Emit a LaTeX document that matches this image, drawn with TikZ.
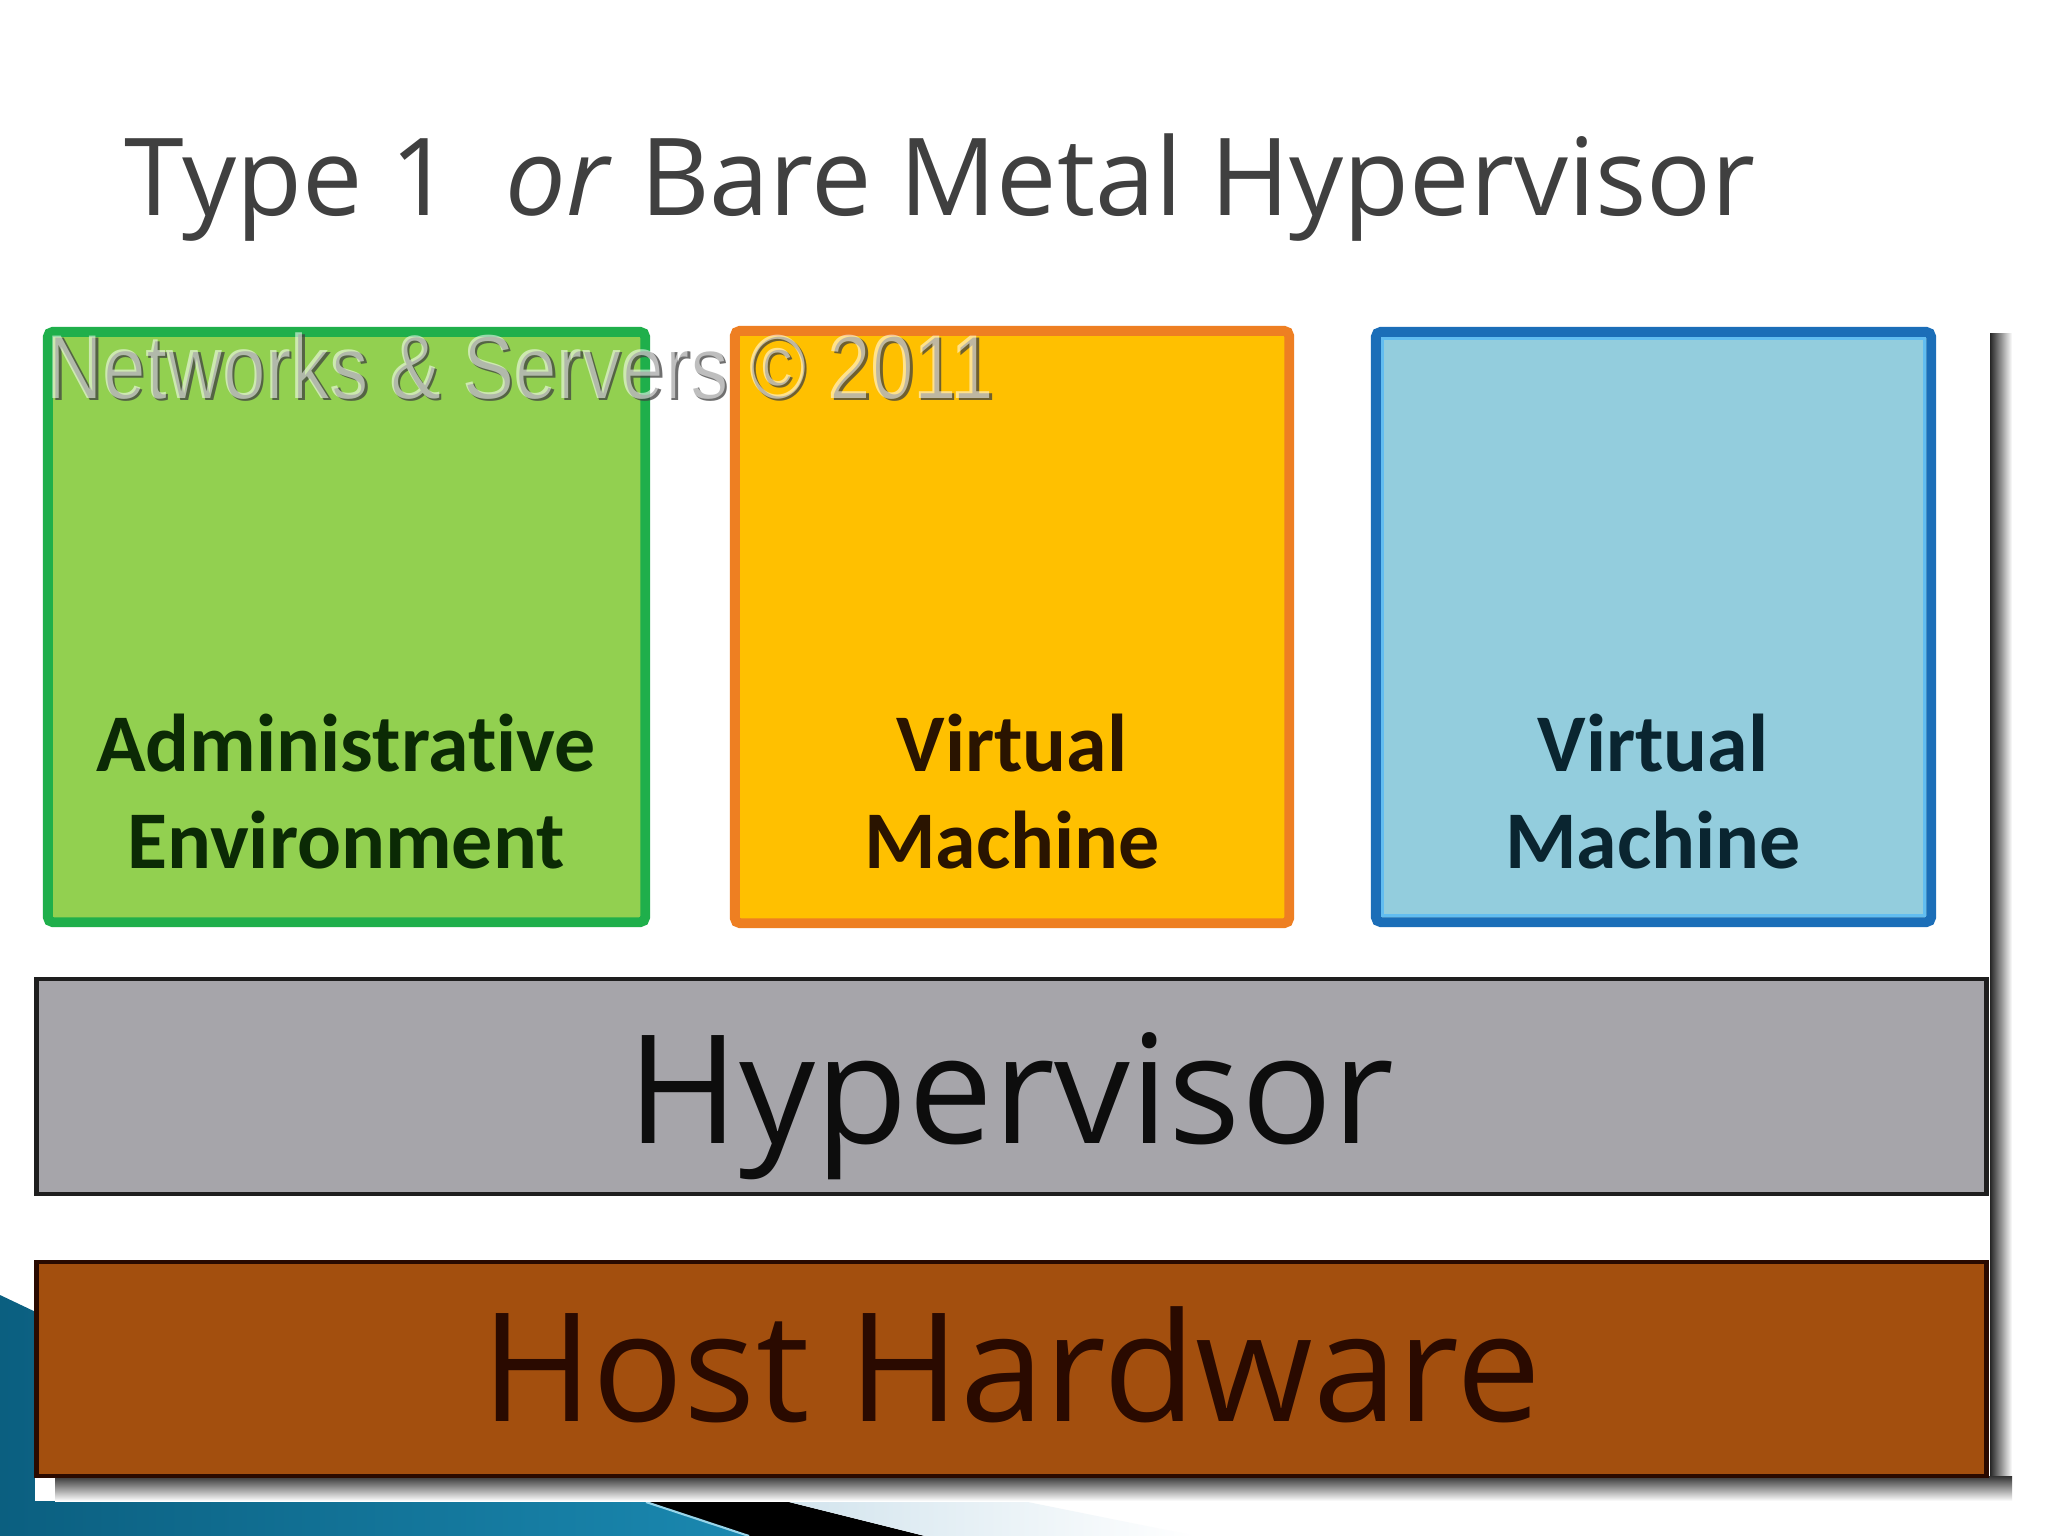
\documentclass[tikz,border=0pt]{standalone}
\usepackage{fontspec}
\setmainfont{Open Sans}
\newfontfamily\labelfont[Ligatures=NoCommon]{Carlito}
\newfontfamily\wmfont{Liberation Sans}
\definecolor{titlegray}{HTML}{404040}
\definecolor{gfill}{HTML}{92D050}
\definecolor{gborder}{HTML}{1FAF4B}
\definecolor{ofill}{HTML}{FFC000}
\definecolor{oborder}{HTML}{EE7F22}
\definecolor{bfill}{HTML}{93CDDD}
\definecolor{bborder}{HTML}{1B6EB8}
\definecolor{binner}{HTML}{62BDF0}
\definecolor{hfill}{HTML}{A6A5AA}
\definecolor{hwfill}{HTML}{A34F0E}
\definecolor{barline}{HTML}{1E1E1E}
\definecolor{hwline}{HTML}{2A0A00}
\definecolor{gtext}{HTML}{0B2A05}
\definecolor{otext}{HTML}{2A1400}
\definecolor{btext}{HTML}{0A2530}
\definecolor{decodark}{HTML}{0B5F80}
\definecolor{decolight}{HTML}{52B9DC}
\definecolor{decomid}{HTML}{1A88B0}
\definecolor{decopale}{HTML}{CFE2EC}
\tikzset{
  vmbox/.style={rectangle, rounded corners=0.05cm, inner sep=0pt, line width=2.8pt},
  barbox/.style={rectangle, inner sep=0pt, line width=1.2pt, minimum width=19.49cm, minimum height=2.15cm},
  lbl/.style={inner sep=0pt, anchor=base, font=\labelfont\bfseries\fontsize{23.3}{27}\selectfont},
  bigtext/.style={inner sep=0pt, anchor=base},
  wmstyle/.style={inner sep=0pt, anchor=base west, font=\wmfont\fontsize{25.8}{30}\selectfont},
}
\begin{document}
\begin{tikzpicture}[x=0.01cm,y=-0.01cm]
\useasboundingbox (0,0) rectangle (2048,1536);
\fill[white] (0,0) rectangle (2048,1536);
% slide decoration bottom-left
\path[left color=decodark, middle color=decolight, right color=decomid]
  (0,1295) -- (120,1352) -- (625,1495) -- (749,1536) -- (0,1536) -- cycle;
\fill[black] (625,1495) -- (761,1495) -- (925,1536) -- (749,1536) -- cycle;
\path[left color=decopale, right color=white]
  (761,1495) -- (993,1495) -- (1196,1536) -- (925,1536) -- cycle;
\draw[decolight!60!white, line width=0.6pt] (646,1502) -- (749,1536);
% picture area
\fill[white] (35,318) rectangle (2010,1501);
\path[left color=black!85, right color=white] (1990,333) rectangle (2012,1499);
\path[top color=black!80, bottom color=white] (55,1476) rectangle (2012,1501);
% title
\node[bigtext, anchor=base west, text=titlegray, font=\fontsize{30.6}{36}\selectfont] (title) at (124,215)
  {Type 1\hspace{0.5em}\textit{or} Bare Metal Hypervisor};
% boxes
\node[vmbox, fill=gfill, draw=gborder, minimum width=5.97cm, minimum height=5.90cm] (admin) at (346.5,627) {};
\node[vmbox, fill=ofill, draw=oborder, minimum width=5.54cm, minimum height=5.92cm] (vm1) at (1012,627) {};
\node[vmbox, fill=bfill, draw=bborder, minimum width=5.55cm, minimum height=5.90cm] (vm2) at (1653.5,627) {};
\node[rectangle, inner sep=0pt, draw=binner, line width=0.8pt, minimum width=5.42cm, minimum height=5.77cm] (vm2in) at (1653.5,627) {};
% bars
\node[barbox, fill=hfill, draw=barline] (hyp) at (1011.5,1086.5) {};
\node[barbox, fill=hwfill, draw=hwline, minimum height=2.14cm] (hw) at (1011.5,1369) {};
% labels
\node[lbl, text=gtext] (adm1) at (346,771) {Administrative};
\node[lbl, text=gtext] (adm2) at (346,868) {Environment};
\node[lbl, text=otext] (v1a) at (1012,771) {Virtual};
\node[lbl, text=otext] (v1b) at (1012,868) {Machine};
\node[lbl, text=btext] (v2a) at (1653,771) {Virtual};
\node[lbl, text=btext] (v2b) at (1653,868) {Machine};
\node[bigtext, text=black!95, font=\fontsize{43}{48}\selectfont] (hyptext) at (1011,1143) {Hypervisor};
\node[bigtext, text=hwline, font=\fontsize{43}{50}\selectfont] (hwtext) at (1011,1421) {Host Hardware};
% watermark (embossed look)
\node[wmstyle, text=black!75, opacity=0.75] (wmshadow) at (48.5,400.5)
  {\scalebox{0.85}[1]{Networks \& Servers © 2011}};
\node[wmstyle, text=white, opacity=0.55] (wm) at (46,398)
  {\scalebox{0.85}[1]{Networks \& Servers © 2011}};
\end{tikzpicture}
\end{document}
